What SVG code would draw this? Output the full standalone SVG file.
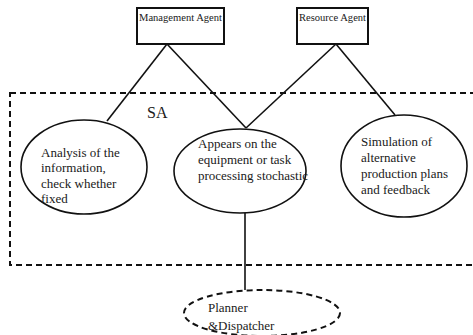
<svg xmlns="http://www.w3.org/2000/svg" width="473" height="335" viewBox="0 0 473 335">
<style>
.box{fill:#fff;stroke:#111;stroke-width:2}
.ell{fill:#fff;stroke:#111;stroke-width:1.6}
.dash{fill:none;stroke:#111;stroke-width:2;stroke-dasharray:6 4}
.ln{stroke:#111;stroke-width:1.6;fill:none}
text{font-family:"Liberation Serif","Times New Roman",serif;fill:#1a1a1a}
.sm{font-size:11px}
.md{font-size:13px}
.lg{font-size:16px}
</style>
<rect class="dash" x="10" y="93" width="470" height="172"/>
<g id="connectors">
<line class="ln" x1="167" y1="44" x2="107" y2="121"/>
<line class="ln" x1="167" y1="44" x2="246" y2="128"/>
<line class="ln" x1="336" y1="44" x2="246" y2="128"/>
<line class="ln" x1="336" y1="44" x2="395" y2="115"/>
<line class="ln" x1="245" y1="213" x2="245" y2="290"/>
</g>
<g id="management">
<rect class="box" x="137" y="8" width="87" height="36"/>
<text class="sm" x="139" y="21" textLength="83" lengthAdjust="spacingAndGlyphs">Management Agent</text>
</g>
<g id="resource">
<rect class="box" x="297" y="8" width="71" height="36"/>
<text class="sm" x="299" y="21" textLength="67" lengthAdjust="spacingAndGlyphs">Resource Agent</text>
</g>
<text id="sa" class="lg" x="147" y="118">SA</text>
<g id="analysis">
<ellipse class="ell" cx="84" cy="167" rx="63" ry="47"/>
<text class="md" x="41" y="157">Analysis of the</text>
<text class="md" x="41" y="172">information,</text>
<text class="md" x="41" y="188">check whether</text>
<text class="md" x="41" y="203">fixed</text>
</g>
<g id="appears">
<ellipse class="ell" cx="240" cy="171" rx="66" ry="42"/>
<text class="md" x="198" y="148">Appears on the</text>
<text class="md" x="198" y="164">equipment or task</text>
<text class="md" x="198" y="180">processing stochastic</text>
</g>
<g id="simulation">
<ellipse class="ell" cx="404" cy="166" rx="63" ry="51"/>
<text class="md" x="361" y="146">Simulation of</text>
<text class="md" x="361" y="162">alternative</text>
<text class="md" x="361" y="178">production plans</text>
<text class="md" x="361" y="194">and feedback</text>
</g>
<g id="planner">
<ellipse class="dash" cx="262" cy="313" rx="78" ry="23"/>
<text class="md" x="208" y="312">Planner</text>
<text class="md" x="208" y="330">&amp;Dispatcher</text>
</g>
</svg>
